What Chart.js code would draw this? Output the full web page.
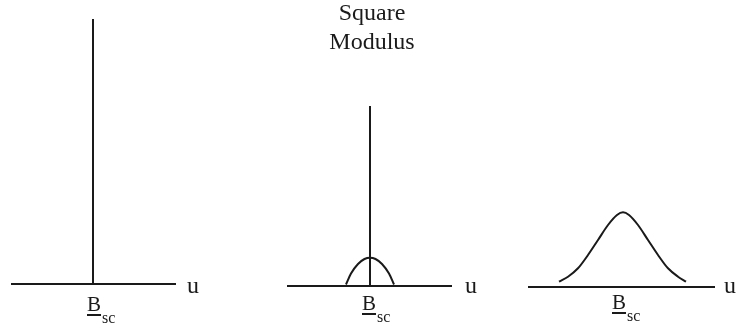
<!DOCTYPE html>
<html>
<head>
<meta charset="utf-8">
<script src="https://cdn.jsdelivr.net/npm/chart.js@4"></script>
<style>
  body { margin: 0; background: #fff; }
  #wrap { position: relative; width: 737px; height: 328px; overflow: hidden; font-family: "Liberation Serif", "Times New Roman", serif; color: #1a1a1a; }
  canvas { position: absolute; top: 0; }
  .lbl { position: absolute; white-space: nowrap; }
  .title { left: 272px; top: -2px; width: 200px; text-align: center; font-size: 24px; line-height: 28.5px; }
  .u { font-size: 24px; line-height: 24px; }
  .b { font-size: 21px; line-height: 21px; }
  .b u { text-underline-offset: 3px; text-decoration-thickness: 1.5px; }
  .b span { font-size: 16px; position: relative; top: 12px; margin-left: 1px; }
</style>
</head>
<body>
<div id="wrap">
  <canvas id="c1" width="190" height="328" style="left:0px"></canvas>
  <canvas id="c2" width="185" height="328" style="left:280px"></canvas>
  <canvas id="c3" width="217" height="328" style="left:520px"></canvas>
  <div class="lbl title">Square<br>Modulus</div>
  <div class="lbl u" style="left:187px; top:273px">u</div>
  <div class="lbl u" style="left:465px; top:273px">u</div>
  <div class="lbl u" style="left:724px; top:273px">u</div>
  <div class="lbl b" style="left:87px; top:294px"><u>B</u><span>sc</span></div>
  <div class="lbl b" style="left:362px; top:293px"><u>B</u><span>sc</span></div>
  <div class="lbl b" style="left:612px; top:292px"><u>B</u><span>sc</span></div>
</div>
<script>
// u axis extent of each panel (offset from B_sc)
const uRange1 = [-82, 83];
const uRange2 = [-83, 82];
const uRange3 = [-95, 92];

// delta spikes at B_sc
const spike1 = 265;
const spike2 = 180;

// small bump under the second spike
const bumpU = [-24, -19, -12, -5.5, 0, 5.5, 12, 19, 24];
const bumpVal = [1.5, 12.5, 22, 27, 28.3, 27, 22, 12.5, 1.5];

// broad curve of the third panel
const gaussU = [-64, -55, -45, -35, -25, -15, -6, 0, 6, 15, 25, 35, 45, 55, 63];
const gaussVal = [5.3, 10.3, 18.7, 32, 47, 62, 72, 74.7, 72, 62, 47, 32, 18.7, 10.3, 5.3];

const ink = '#1a1a1a';

function lineSet(xs, ys, smooth) {
    return {
        data: xs.map((x, i) => ({ x: x, y: ys[i] })),
        borderColor: ink,
        borderWidth: 2,
        pointRadius: 0,
        showLine: true,
        fill: false,
        tension: smooth ? 0.4 : 0,
        cubicInterpolationMode: smooth ? 'monotone' : 'default'
    };
}

function makePanel(id, xMin, xMax, yMin, yMax, datasets) {
    return new Chart(document.getElementById(id), {
        type: 'scatter',
        data: { datasets: datasets },
        options: {
            responsive: false,
            animation: false,
            layout: { padding: 0 },
            plugins: { legend: { display: false }, tooltip: { enabled: false } },
            scales: {
                x: { type: 'linear', min: xMin, max: xMax, display: false },
                y: { type: 'linear', min: yMin, max: yMax, display: false }
            }
        }
    });
}

makePanel('c1', -93, 97, -44, 284, [
    lineSet(uRange1, [0, 0]),
    lineSet([0, 0], [0, spike1])
]);

makePanel('c2', -90, 95, -42, 286, [
    lineSet(uRange2, [0, 0]),
    lineSet([0, 0], [0, spike2]),
    lineSet(bumpU, bumpVal, true)
]);

makePanel('c3', -103, 114, -41, 287, [
    lineSet(uRange3, [0, 0]),
    lineSet(gaussU, gaussVal, true)
]);
</script>
</body>
</html>
